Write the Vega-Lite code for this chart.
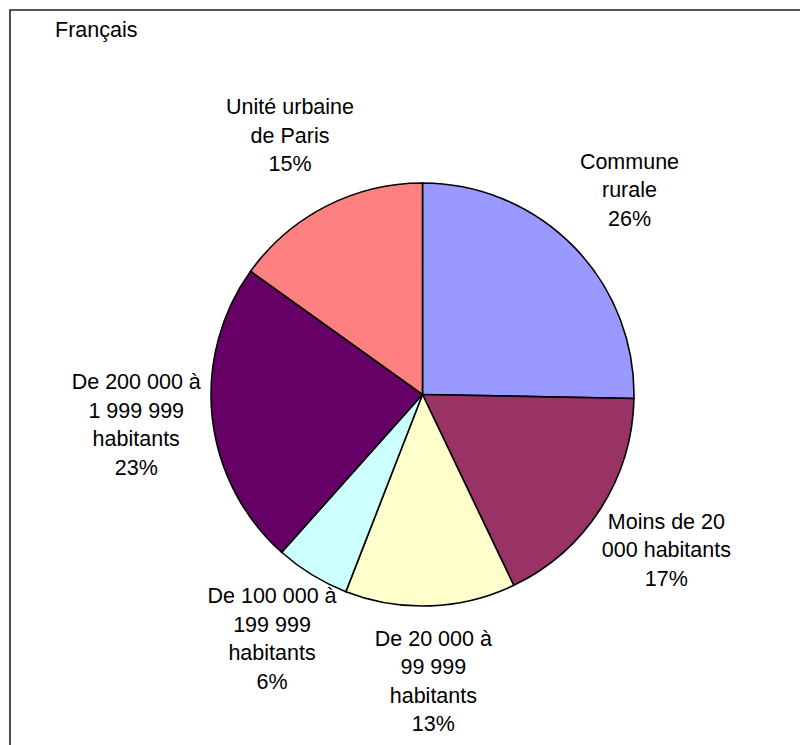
{
  "$schema": "https://vega.github.io/schema/vega-lite/v6.json",
  "width": 825,
  "height": 769,
  "padding": {"left": 10, "top": 10, "right": -35, "bottom": -34},
  "autosize": {"type": "none"},
  "background": "white",
  "view": {"stroke": "#222", "strokeWidth": 1.6, "fill": "white"},
  "title": {
    "text": "Français",
    "frame": "group",
    "anchor": "start",
    "orient": "top",
    "offset": -21,
    "dx": 45,
    "dy": 27,
    "baseline": "alphabetic",
    "font": "Liberation Sans",
    "fontSize": 21.5,
    "fontWeight": "normal",
    "color": "black"
  },
  "data": {
    "values": [
      {"ord": 1, "category": "Commune rurale", "share": 25.3, "label": "Commune\nrurale\n26%"},
      {"ord": 2, "category": "Moins de 20 000 habitants", "share": 17.6, "label": "Moins de 20\n000 habitants\n17%"},
      {"ord": 3, "category": "De 20 000 à 99 999 habitants", "share": 13.0, "label": "De 20 000 à\n99 999\nhabitants\n13%"},
      {"ord": 4, "category": "De 100 000 à 199 999 habitants", "share": 5.7, "label": "De 100 000 à\n199 999\nhabitants\n6%"},
      {"ord": 5, "category": "De 200 000 à 1 999 999 habitants", "share": 23.3, "label": "De 200 000 à\n1 999 999\nhabitants\n23%"},
      {"ord": 6, "category": "Unité urbaine de Paris", "share": 15.1, "label": "Unité urbaine\nde Paris\n15%"}
    ]
  },
  "encoding": {
    "theta": {"field": "share", "type": "quantitative", "stack": true},
    "order": {"field": "ord", "type": "quantitative"}
  },
  "layer": [
    {
      "mark": {"type": "arc", "outerRadius": 211.5, "stroke": "black", "strokeWidth": 1.6},
      "encoding": {
        "color": {
          "field": "category",
          "type": "nominal",
          "scale": {
            "domain": ["Commune rurale", "Moins de 20 000 habitants", "De 20 000 à 99 999 habitants", "De 100 000 à 199 999 habitants", "De 200 000 à 1 999 999 habitants", "Unité urbaine de Paris"],
            "range": ["#9999FF", "#993366", "#FFFFCC", "#CCFFFF", "#660066", "#FF8080"]
          },
          "legend": null
        }
      }
    },
    {
      "mark": {
        "type": "text",
        "radius": 290,
        "dy": -28.5,
        "lineBreak": "\n",
        "lineHeight": 28.5,
        "align": "center",
        "baseline": "middle",
        "font": "Liberation Sans",
        "fontSize": 21.5,
        "color": "black"
      },
      "encoding": {
        "text": {
          "condition": {"test": "length(split(datum.label, '\\n')) == 3", "field": "label", "type": "nominal"},
          "value": ""
        }
      }
    },
    {
      "mark": {
        "type": "text",
        "radius": 288,
        "dy": -42.75,
        "lineBreak": "\n",
        "lineHeight": 28.5,
        "align": "center",
        "baseline": "middle",
        "font": "Liberation Sans",
        "fontSize": 21.5,
        "color": "black"
      },
      "encoding": {
        "text": {
          "condition": {"test": "length(split(datum.label, '\\n')) == 4", "field": "label", "type": "nominal"},
          "value": ""
        }
      }
    }
  ]
}
